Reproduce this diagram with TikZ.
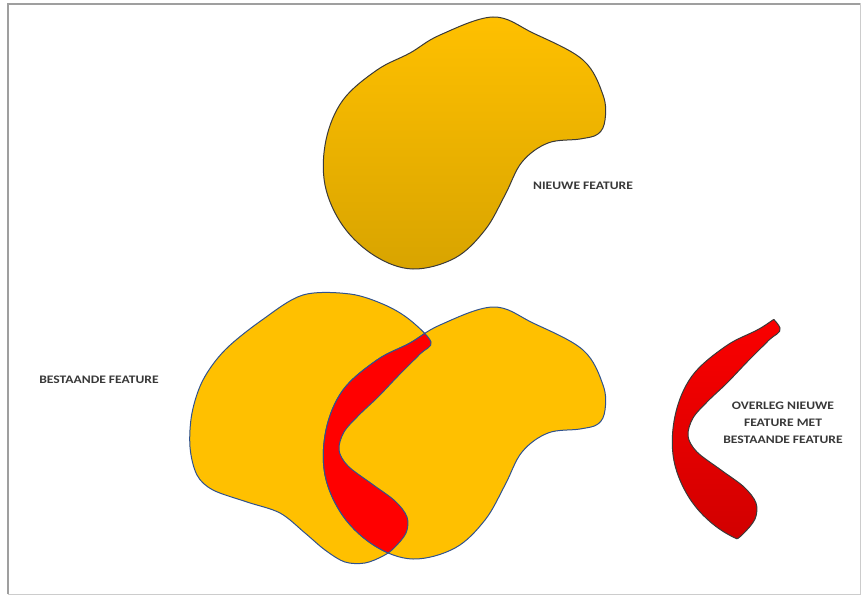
\documentclass[tikz,border=0pt]{standalone}
\usepackage{fontspec}
\newfontfamily\labelfont[FakeStretch=1.18]{Carlito}

\definecolor{featTop}{HTML}{FFC000}
\definecolor{featBot}{HTML}{D8A400}
\definecolor{edgeBlue}{HTML}{2F528F}
\definecolor{edgeGray}{HTML}{3A3A3A}
\definecolor{overlapRed}{HTML}{FF0000}
\definecolor{overlapDark}{HTML}{D00000}

% outline of the new feature and of the existing one (px, y down)
\def\nieuwepath{plot[smooth cycle, tension=0.6] coordinates {
  (493,17) (533,33) (583,60) (603,95) (605,120) (598,134) (580,139)
  (548,143) (522,162) (505,195) (485,230) (455,258) (413,269) (375,256)
  (343,226) (325,185) (326,140) (343,100) (377,70) (410,53) (440,35)}}
\def\bestaandepath{plot[smooth cycle, tension=0.55] coordinates {
  (303,295) (350,294) (385,305) (410,320) (431,342) (420,354) (399,375)
  (378,397) (359,415) (344,432) (339,450) (348,466) (372,484) (395,501)
  (407,517) (406,533) (394,548) (383,556) (365,563) (345,562) (325,550)
  (305,533) (280,513) (247,502) (213,490) (197,475) (190,447) (192,413)
  (203,380) (225,350) (262,320)}}

\begin{document}
\begin{tikzpicture}[x=1pt, y=-1pt,
  blob/.style={line width=1pt, draw=edgeBlue, fill=featTop},
  lbl/.style={font=\labelfont\bfseries\fontsize{11.5}{17}\selectfont,
    text=black!78, align=center, inner sep=0pt}]

  \useasboundingbox (0,0) rectangle (861,596);

  % -- Frame --
  \draw[gray!40, line width=1pt] (8,4) rectangle (860,594);
  \draw[gray!75, line width=2.5pt] (8,594) -- (8,4) -- (860,4);

  % -- Nieuwe feature --
  \draw[line width=1pt, draw=edgeGray, top color=featTop, bottom color=featBot] \nieuwepath;
  \node[lbl] (nieuwe) at (583,186) {NIEUWE FEATURE};

  % -- Bestaande feature, new feature placed over it --
  \draw[blob] \bestaandepath;
  \draw[blob, shift={(0,290)}] \nieuwepath;
  \begin{scope}
    \clip \bestaandepath;
    \draw[blob, fill=overlapRed, shift={(0,290)}] \nieuwepath;
  \end{scope}
  \begin{scope}
    \clip[shift={(0,290)}] \nieuwepath;
    \draw[blob, fill=none] \bestaandepath;
  \end{scope}
  \node[lbl] (bestaande) at (99,380) {BESTAANDE FEATURE};

  % -- Overlap on its own --
  \begin{scope}[shift={(349,-14)}]
    \begin{scope}
      \clip \bestaandepath;
      \shade[top color=overlapRed, bottom color=overlapDark, shift={(0,290)}] \nieuwepath;
      \draw[edgeGray, line width=1pt, shift={(0,290)}] \nieuwepath;
    \end{scope}
    \begin{scope}
      \clip[shift={(0,290)}] \nieuwepath;
      \draw[edgeGray, line width=1pt] \bestaandepath;
    \end{scope}
  \end{scope}
  \node[lbl] (overleg) at (783,423) {OVERLEG NIEUWE\\FEATURE MET\\BESTAANDE FEATURE};

\end{tikzpicture}
\end{document}
